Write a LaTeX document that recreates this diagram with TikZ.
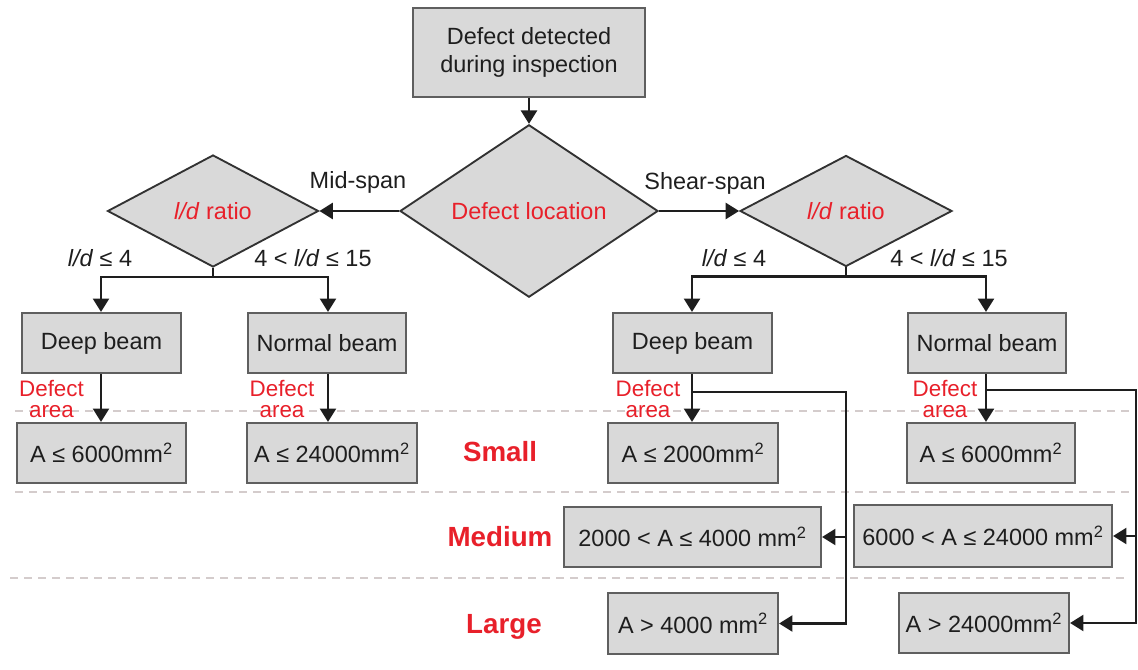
\documentclass[tikz,border=0pt]{standalone}
\usepackage{fontspec}
\setmainfont{Liberation Sans}
\usetikzlibrary{arrows.meta,shapes.geometric}

\definecolor{boxfill}{RGB}{217,217,217}
\definecolor{boxline}{RGB}{95,95,95}
\definecolor{dialine}{RGB}{50,50,50}
\definecolor{ink}{RGB}{30,30,30}
\definecolor{hot}{RGB}{232,32,42}
\definecolor{guide}{RGB}{212,204,204}

\newcommand{\mainfs}{\fontsize{17.6}{21}\selectfont}
\newcommand{\tagfs}{\fontsize{16.8}{15.2}\selectfont}
\newcommand{\bandfs}{\fontsize{20.8}{24}\selectfont\bfseries}

\begin{document}
\begin{tikzpicture}[x=0.75pt,y=-0.75pt,
  wh/.style 2 args={minimum width=#1*0.75pt, minimum height=#2*0.75pt},
  bx/.style={rectangle, draw=boxline, fill=boxfill, line width=1.6pt,
    inner sep=0pt, font=\mainfs, text=ink, align=center},
  dia/.style={diamond, draw=dialine, fill=boxfill, line width=1.4pt,
    inner sep=0pt, font=\mainfs, text=hot},
  arr/.style={draw=ink, line width=1.7pt,
    -{Triangle[length=10pt,width=12pt]}},
  lbl/.style={font=\mainfs, text=ink, inner sep=0pt},
  tag/.style={font=\tagfs, text=hot, align=center, inner sep=0pt},
  band/.style={font=\bandfs, text=hot, inner sep=0pt},
  guideline/.style={draw=guide, line width=1.1pt, dash pattern=on 6pt off 4.5pt}]

  \useasboundingbox (0,0) rectangle (1138,670);

  % size-class separators
  \draw[guideline] (15,411) -- (1133,411);
  \draw[guideline] (15,492) -- (1133,492);
  \draw[guideline] (10,578) -- (1127,578);

  % start and decisions
  \node[bx, wh={232}{89}] (start) at (529,52.5) {Defect detected\\during inspection};
  \node[dia, wh={258}{137}] (loc) at (529,211) {Defect location};
  \node[dia, wh={211}{112}] (ldL) at (213,211) {\textit{l/d} ratio};
  \node[dia, wh={212}{111}] (ldR) at (846,211) {\textit{l/d} ratio};

  % beam types
  \node[bx, wh={159}{60}] (deepL) at (101.5,343) {Deep beam};
  \node[bx, wh={158}{60}] (normL) at (327,343) {Normal beam};
  \node[bx, wh={159}{60}] (deepR) at (692.5,343) {Deep beam};
  \node[bx, wh={158}{60}] (normR) at (987,343) {Normal beam};

  % defect area classes
  \node[bx, wh={169}{60}] (smL1) at (101.5,453) {A ≤ 6000mm\textsuperscript{2}};
  \node[bx, wh={170}{60}] (smL2) at (332,453) {A ≤ 24000mm\textsuperscript{2}};
  \node[bx, wh={170}{60}] (smR1) at (693,453) {A ≤ 2000mm\textsuperscript{2}};
  \node[bx, wh={168}{60}] (smR2) at (991,453) {A ≤ 6000mm\textsuperscript{2}};
  \node[bx, wh={257}{60}] (mdR1) at (692.5,537) {2000 < A ≤ 4000 mm\textsuperscript{2}};
  \node[bx, wh={258}{62}] (mdR2) at (983,536) {6000 < A ≤ 24000 mm\textsuperscript{2}};
  \node[bx, wh={170}{61}] (lgR1) at (693,623.5) {A > 4000 mm\textsuperscript{2}};
  \node[bx, wh={170}{60}] (lgR2) at (984,623) {A > 24000mm\textsuperscript{2}};

  % band names
  \node[band] (bSmall) at (500,452) {Small};
  \node[band] (bMedium) at (500,537) {Medium};
  \node[band] (bLarge) at (504,627) {Large};

  % location branches
  \draw[arr] (start) -- (loc);
  \draw[arr] (loc) -- (ldL);
  \draw[arr] (loc) -- (ldR);
  \node[lbl] (mid) at (358,182) {Mid-span};
  \node[lbl] (shear) at (705,183) {Shear-span};

  % span-to-depth branches
  \coordinate (xL1) at (101,0);
  \coordinate (xL2) at (328,0);
  \coordinate (xR1) at (692,0);
  \coordinate (xR2) at (986,0);
  \draw[arr] (ldL.south) -- ++(0,9) -| (deepL.north -| xL1);
  \draw[arr] (ldL.south) -- ++(0,9) -| (normL.north -| xL2);
  \draw[arr] (ldR.south) -- ++(0,9) -| (deepR.north -| xR1);
  \draw[arr] (ldR.south) -- ++(0,9) -| (normR.north -| xR2);
  \node[lbl] (cL1) at (100,258) {\textit{l/d} ≤ 4};
  \node[lbl] (cL2) at (313,258) {4 < \textit{l/d} ≤ 15};
  \node[lbl] (cR1) at (734,258) {\textit{l/d} ≤ 4};
  \node[lbl] (cR2) at (949,258) {4 < \textit{l/d} ≤ 15};

  % defect area arrows
  \draw[arr] (deepL.south -| xL1) -- (smL1.north -| xL1);
  \draw[arr] (normL.south -| xL2) -- (smL2.north -| xL2);
  \draw[arr] (deepR.south -| xR1) -- (smR1.north -| xR1);
  \draw[arr] (normR.south -| xR2) -- (smR2.north -| xR2);
  \node[tag] (tL1) at (51.5,399) {Defect\\area};
  \node[tag] (tL2) at (282,399) {Defect\\area};
  \node[tag] (tR1) at (648,399) {Defect\\area};
  \node[tag] (tR2) at (945,399) {Defect\\area};

  % side routes to medium and large classes
  \coordinate (jR1) at (692,392);
  \coordinate (vR1) at (846,392);
  \coordinate (jR2) at (986,390);
  \coordinate (vR2) at (1136,390);
  \draw[arr] (jR1) -- (vR1) |- (lgR1.east);
  \draw[arr] (vR1 |- mdR1.east) -- (mdR1.east);
  \draw[arr] (jR2) -- (vR2) |- (lgR2.east);
  \draw[arr] (vR2 |- mdR2.east) -- (mdR2.east);
\end{tikzpicture}
\end{document}
